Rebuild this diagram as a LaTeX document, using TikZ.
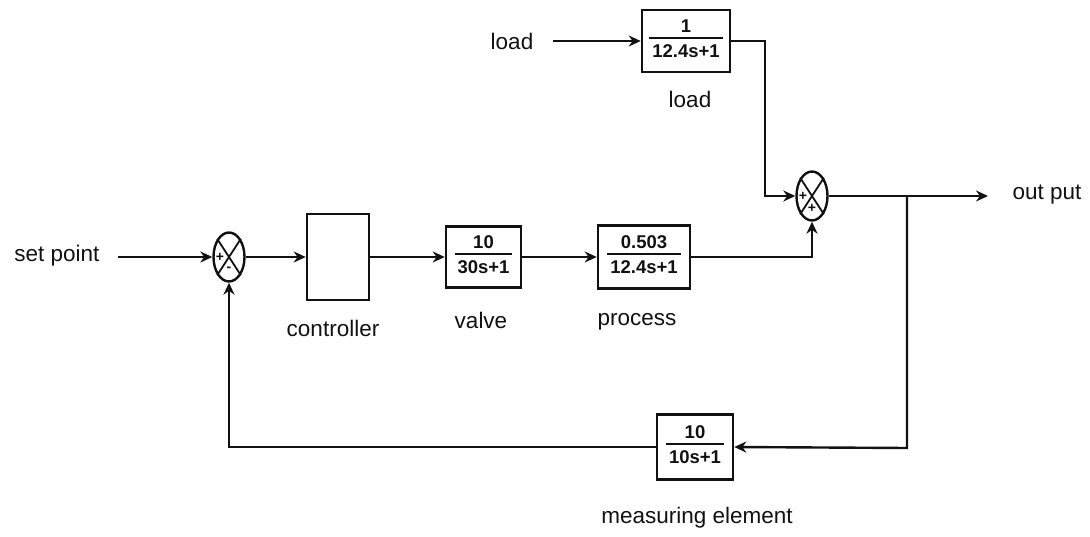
\documentclass[tikz,border=0pt]{standalone}
\usepackage{fontspec}
\setmainfont{Liberation Sans}
\usetikzlibrary{arrows.meta,shapes.geometric}
\newcommand\mfrac[2]{\setlength{\arrayrulewidth}{1.8pt}\begin{tabular}{@{\hspace{3pt}}c@{\hspace{3pt}}}#1\\[-1pt]\hline\rule{0pt}{19pt}#2\end{tabular}}
\definecolor{ink}{HTML}{111111}
\tikzset{
  blk/.style={draw=ink, line width=2.6pt, inner sep=0pt, align=center, text=ink, font=\fontsize{18.5}{20}\selectfont\bfseries},
  sumj/.style={ellipse, draw=ink, line width=2.4pt, minimum width=31pt, minimum height=49pt, inner sep=0pt},
  sgn/.style={font=\fontsize{14}{15}\selectfont\bfseries, text=ink, inner sep=0pt},
  lbl/.style={font=\fontsize{22.5}{26}\selectfont, text=ink, inner sep=0pt},
  conn/.style={draw=ink, line width=2.4pt, -{Stealth[length=12pt,width=11pt]}},
  plain/.style={draw=ink, line width=2.4pt}
}
\begin{document}
\begin{tikzpicture}[x=1pt,y=-1pt]
\useasboundingbox (0,0) rectangle (1090,537);
% blocks
\node[blk, minimum width=88pt, minimum height=62pt] (ldb) at (686,41) {\mfrac{1}{12.4s+1}};
\node[blk, minimum width=62pt, minimum height=86pt] (ctrl) at (338,257) {};
\node[blk, minimum width=75pt, minimum height=61pt] (valve) at (483.5,257) {\mfrac{10}{30s+1}};
\node[blk, minimum width=92pt, minimum height=63pt] (proc) at (644,257) {\mfrac{0.503}{12.4s+1}};
\node[blk, minimum width=76pt, minimum height=65pt] (meas) at (695,447) {\mfrac{10}{10s+1}};
% summing junctions
\node[sumj] (s1) at (229,257) {};
\draw[plain, line width=1.8pt] (s1.north west) -- (s1.south east) (s1.north east) -- (s1.south west);
\node[sgn] (s1p) at ([xshift=-9pt]s1.center) {+};
\node[sgn] (s1m) at ([yshift=-12pt]s1.center) {-};
\node[sumj] (s2) at (812,196) {};
\draw[plain, line width=1.8pt] (s2.north west) -- (s2.south east) (s2.north east) -- (s2.south west);
\node[sgn] (s2p) at ([xshift=-9pt]s2.center) {+};
\node[sgn] (s2q) at ([yshift=-12pt]s2.center) {+};
% labels
\node[lbl] (tsp) at (57,256) {set point};
\node[lbl] (tld) at (512,41) {load};
\node[lbl] (tld2) at (690,99) {load};
\node[lbl] (tctrl) at (333,328) {controller};
\node[lbl] (tvalve) at (481,320) {valve};
\node[lbl] (tproc) at (637,322) {process};
\node[lbl] (tmeas) at (697,518) {measuring element};
\node[lbl] (tout) at (1047,195) {out put};
% connectors
\coordinate (sp) at (118,257);
\coordinate (ld) at (553,41);
\coordinate (c1) at (765,41);
\coordinate (outp) at (988,196);
\coordinate (br) at (907,196);
\coordinate (br2) at (907,448);
\draw[conn] (sp) -- (s1.west);
\draw[conn] (s1.east) -- (ctrl.west);
\draw[conn] (ctrl.east) -- (valve.west);
\draw[conn] (valve.east) -- (proc.west);
\draw[conn] (proc.east) -| (s2.south);
\draw[conn] (ld) -- (ldb.west);
\draw[conn] (ldb.east) -- (c1) |- (s2.west);
\draw[conn] (s2.east) -- (outp);
\draw[conn] (br) -- (br2) -- (meas.east);
\draw[conn] (meas.west) -| (s1.south);
\end{tikzpicture}
\end{document}
